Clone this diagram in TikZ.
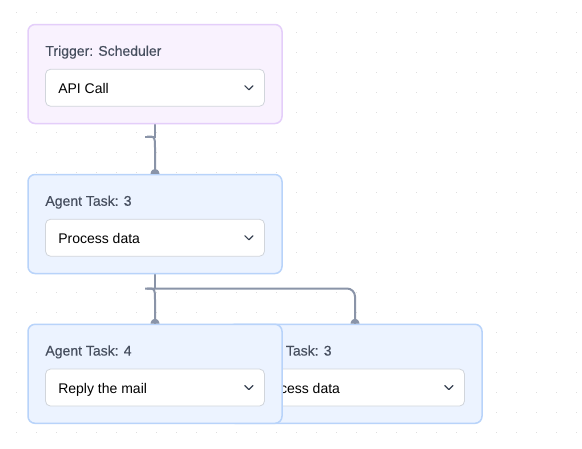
\documentclass[tikz,border=0pt]{standalone}
\usepackage{fontspec}
\setmainfont{Liberation Sans}
\newfontfamily\titlefont[FakeBold=0.35]{Liberation Sans}
\usetikzlibrary{calc}
\definecolor{dotc}{HTML}{DEDEDE}
\definecolor{edgec}{HTML}{8A94A8}
\definecolor{purfill}{HTML}{F9F2FE}
\definecolor{purline}{HTML}{E4CEFA}
\definecolor{bluefill}{HTML}{ECF3FF}
\definecolor{blueline}{HTML}{B8D3FA}
\definecolor{titlec}{HTML}{464E5E}
\definecolor{selline}{HTML}{D1D5DB}
\definecolor{chevc}{HTML}{374151}
\tikzset{
 card/.style={draw, rounded corners=7pt, line width=1.5pt, minimum width=254pt, minimum height=99pt, inner sep=0pt},
 purplecard/.style={card, fill=purfill, draw=purline},
 bluecard/.style={card, fill=bluefill, draw=blueline},
 selbox/.style={draw=selline, fill=white, rounded corners=5pt, line width=0.8pt, minimum width=219pt, minimum height=37pt, inner sep=0pt},
 titletext/.style={anchor=base west, text=titlec, font=\titlefont\fontsize{14}{16}\selectfont, inner sep=0pt},
 seltext/.style={anchor=base west, text=black, font=\fontsize{14}{16}\selectfont, inner sep=0pt},
 edge/.style={draw=edgec, line width=2pt},
 chev/.pic={\draw[chevc, line width=1.2pt, line cap=round, line join=round] (-4,-2) -- (0,2) -- (4,-2);},
 capend/.pic={\fill[edgec] (-4.5,0) .. controls (-3.5,-6.5) and (3.5,-6.5) .. (4.5,0) -- cycle;},
}
\begin{document}
\begin{tikzpicture}[x=1pt,y=-1pt]
\useasboundingbox (0,0) rectangle (582,448);
\fill[white] (0,0) rectangle (582,448);
% dot grid
\foreach \i in {0,...,28}{
  \foreach \j in {0,...,21}{
    \fill[dotc] ({16.7+20*\i-0.75},{12.7+20*\j-0.75}) rectangle ++(1.5,1.5);
  }
}
% card coordinates
\coordinate (c1) at (155,74);
\coordinate (c2) at (155,224);
\coordinate (c3) at (355,373.8);
\coordinate (c4) at (155,373.8);
% edges (under cards)
\path (c1) ++(0,49.5) coordinate (s1);
\path (c2) ++(0,-49.5) coordinate (t2);
\draw[edge] (s1) -- ++(0,13) coordinate (j1) -- ++(-10,0);
\draw[edge] ($(j1)+(-8,0)$) .. controls ($(j1)+(0,0)$) .. ($(j1)+(0,11)$) -- (t2);
\path (c2) ++(0,49.5) coordinate (s2);
\path (c4) ++(0,-49.5) coordinate (t4);
\path (c3) ++(0,-49.5) coordinate (t3);
\draw[edge] (s2) -- ++(0,15) coordinate (j2);
\draw[edge,rounded corners=8pt] ($(j2)+(-10,0)$) -| (t3);
\draw[edge] ($(j2)+(-8,0)$) .. controls ($(j2)+(0,0)$) .. ($(j2)+(0,11)$) -- (t4);
% card 1
\node[purplecard] (trig) at (c1) {};
\node[titletext] (trigtitle) at ($(trig.north west)+(18,32)$) {Trigger: Scheduler};
\node[selbox] (trigsel) at ($(trig.north)+(0,64)$) {};
\node[seltext] (trigval) at ($(trigsel.west)+(13,5.5)$) {API Call};
\pic at ($(trigsel.east)+(-16,0)$) {chev};
% card 2
\node[bluecard] (task2) at (c2) {};
\node[titletext] (task2title) at ($(task2.north west)+(18,32)$) {Agent Task: 3};
\node[selbox] (task2sel) at ($(task2.north)+(0,64)$) {};
\node[seltext] (task2val) at ($(task2sel.west)+(13,5.5)$) {Process data};
\pic at ($(task2sel.east)+(-16,0)$) {chev};
% card 3b (behind)
\node[bluecard] (task3) at (c3) {};
\node[titletext] (task3title) at ($(task3.north west)+(18,32)$) {Agent Task: 3};
\node[selbox] (task3sel) at ($(task3.north)+(0,64)$) {};
\node[seltext] (task3val) at ($(task3sel.west)+(13,5.5)$) {Process data};
\pic at ($(task3sel.east)+(-16,0)$) {chev};
% card 4 (front)
\node[bluecard] (task4) at (c4) {};
\node[titletext] (task4title) at ($(task4.north west)+(18,32)$) {Agent Task: 4};
\node[selbox] (task4sel) at ($(task4.north)+(0,64)$) {};
\node[seltext] (task4val) at ($(task4sel.west)+(13,5.5)$) {Reply the mail};
\pic at ($(task4sel.east)+(-16,0)$) {chev};
% arrow caps
\pic at (task2.north) {capend};
\pic at (task4.north) {capend};
\pic at (task3.north) {capend};
\end{tikzpicture}
\end{document}
